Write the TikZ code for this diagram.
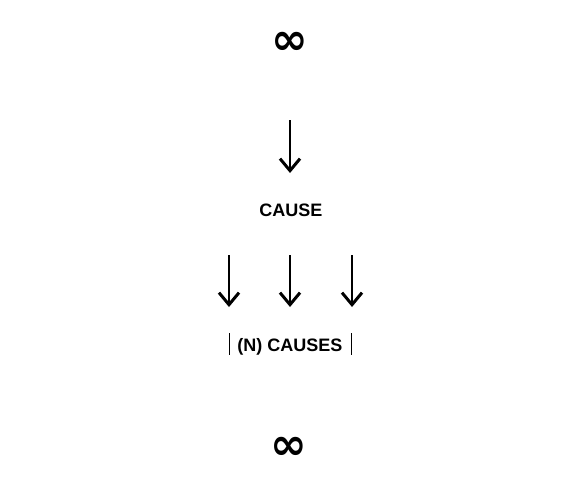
\documentclass[tikz,border=0pt]{standalone}
\usepackage{fontspec}
\setmainfont{Liberation Sans}
\newfontfamily\symfont{DejaVu Sans}
\usetikzlibrary{arrows.meta}

\begin{document}
\begin{tikzpicture}[x=1pt,y=-1pt,
    lbl/.style={font=\fontsize{18}{20}\selectfont\bfseries, inner sep=0pt, anchor=base},
    inf/.style={font=\symfont\fontsize{44}{46}\selectfont\bfseries, inner sep=0pt},
    bar/.style={line width=1.3pt},
    arr/.style={line width=2.2pt, -{Straight Barb[length=12pt,width=20pt,line width=3pt]}}]
  \useasboundingbox (0,0) rectangle (574,479);
  \node[inf] (inftop) at (290,43) {∞};
  \node[lbl] (cause) at (291,216.7) {CAUSE};
  \node[lbl] (ncauses) at (290,351) {(N) CAUSES};
  \node[inf] (infbot) at (289,448) {∞};
  % the two bars round (N) CAUSES
  \draw[bar] (229.3,333) -- (229.3,355);
  \draw[bar] (351.7,333) -- (351.7,355);
  % arrow ends
  \coordinate (a0) at (290,120);
  \coordinate (b0) at (290,173);
  \foreach \i/\x in {1/229,2/290,3/352} {
    \coordinate (a\i) at (\x,255);
    \coordinate (b\i) at (\x,307);
  }
  \draw[arr] (a0) -- (b0);
  \foreach \i in {1,2,3}
    \draw[arr] (a\i) -- (b\i);
\end{tikzpicture}
\end{document}
